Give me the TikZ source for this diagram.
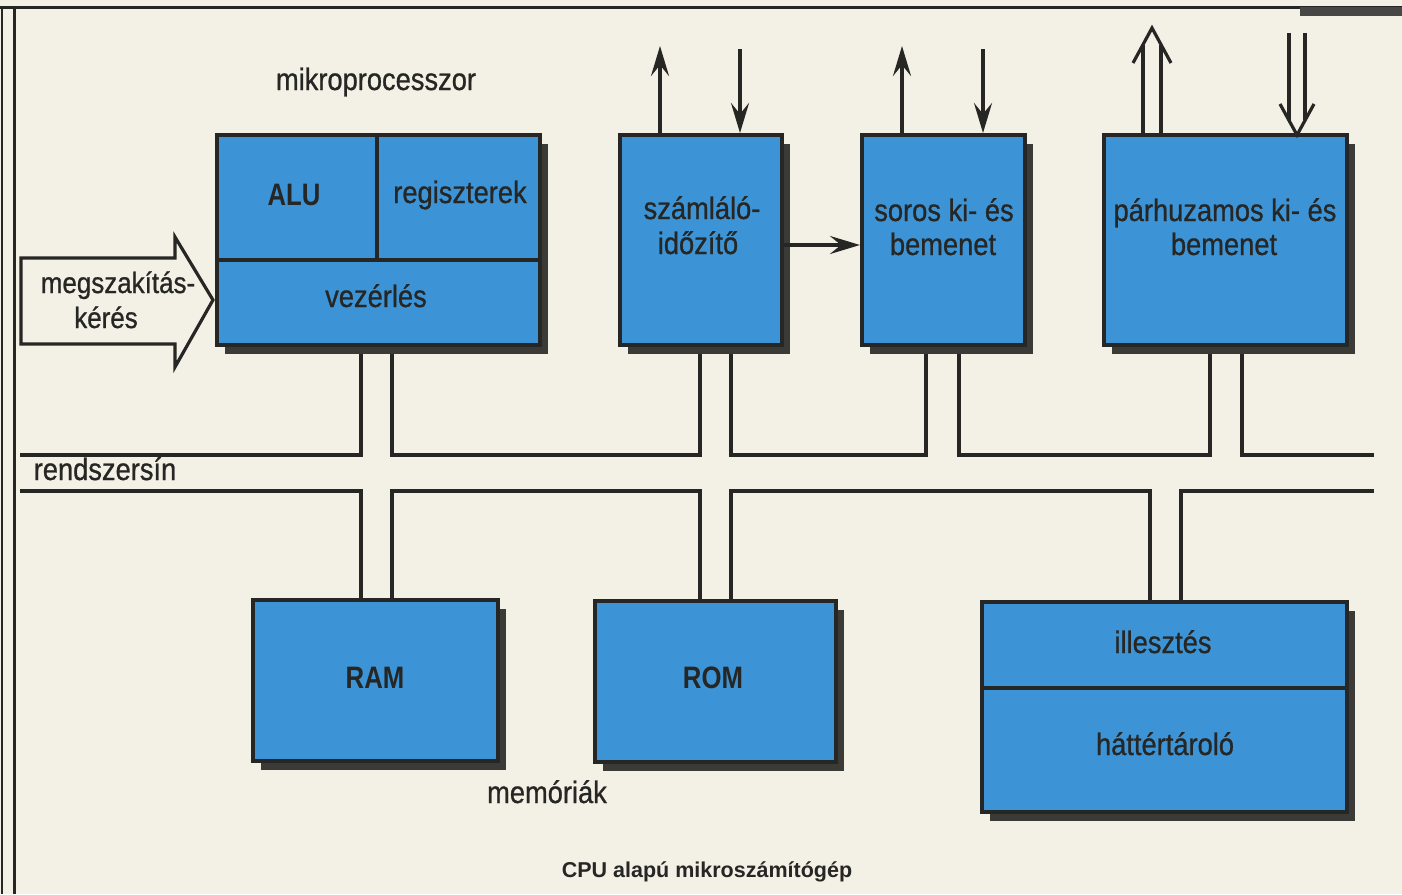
\documentclass[tikz,border=0pt]{standalone}
\usepackage{fontspec}
\setmainfont{Liberation Sans}
\newfontfamily\condfont[FakeStretch=0.88,FakeBold=0.8]{Liberation Sans}
\newfontfamily\bcondfont[FakeStretch=0.83]{Liberation Sans}
\usetikzlibrary{arrows.meta,shadows,backgrounds}
\definecolor{paper}{RGB}{243,240,229}
\definecolor{boxblue}{RGB}{60,148,214}
\definecolor{ink}{RGB}{38,38,36}
\definecolor{shade}{RGB}{58,58,54}
\newcommand\txtreg{\condfont\fontsize{31}{36}\selectfont}
\newcommand\txtirq{\condfont\fontsize{29.5}{34}\selectfont}
\newcommand\txtbold{\bcondfont\fontsize{31}{34}\selectfont\bfseries}
\newcommand\txtcap{\fontsize{21.5}{26}\selectfont\bfseries}
\tikzset{
  blk/.style={draw=ink, line width=4pt, fill=boxblue, inner sep=0pt,
    drop shadow={shadow xshift=8pt, shadow yshift=-9pt, fill=shade, opacity=1}},
  divline/.style={draw=ink, line width=4pt},
  bus/.style={draw=ink, line width=4pt, line join=miter},
  sarrow/.style={draw=ink, line width=3.6pt, -{Stealth[length=30pt,width=18pt,inset=11pt]}},
  dbl/.style={draw=ink, line width=3.2pt},
  lbl/.style={anchor=base, text=ink, inner sep=0pt, font=\txtreg},
  blbl/.style={anchor=base, text=ink, inner sep=0pt, font=\txtbold},
}
\begin{document}
\begin{tikzpicture}[x=1pt,y=-1pt]
\useasboundingbox (0,0) rectangle (1402,894);
% boxes
\node[blk, minimum width=323pt, minimum height=210pt] (mp) at (378.5,240) {};
\node[blk, minimum width=162pt, minimum height=210pt] (szl) at (701,240) {};
\node[blk, minimum width=163pt, minimum height=210pt] (sor) at (943.5,240) {};
\node[blk, minimum width=243pt, minimum height=210pt] (par) at (1225.5,240) {};
\node[blk, minimum width=245pt, minimum height=161pt] (ram) at (375.5,680.5) {};
\node[blk, minimum width=241pt, minimum height=161pt] (rom) at (715.5,681.5) {};
\node[blk, minimum width=365pt, minimum height=210pt] (hat) at (1164.5,707) {};
% dividers
\draw[divline] (mp.west |- 0,260) -- (mp.east |- 0,260);
\draw[divline] (mp.north -| 377,0) -- (377,260);
\draw[divline] (hat.west |- 0,688) -- (hat.east |- 0,688);
% background: paper, frame and bus
\begin{scope}[on background layer]
\fill[paper] (0,0) rectangle (1402,894);
\draw[ink, line width=3pt] (0,7) -- (1402,7);
\draw[ink!85, line width=9pt] (1300,11) -- (1402,11);
\draw[ink, line width=2.5pt] (2,7) -- (2,894);
\draw[ink, line width=3pt] (14,7) -- (14,894);
\coordinate (tl) at (20,455);
\coordinate (t1) at (361,455);
\coordinate (t2) at (392,455);
\coordinate (t3) at (700,455);
\coordinate (t4) at (731,455);
\coordinate (t5) at (926,455);
\coordinate (t6) at (959,455);
\coordinate (t7) at (1210,455);
\coordinate (t8) at (1242,455);
\coordinate (tr) at (1374,455);
\coordinate (bl) at (20,491);
\coordinate (b1) at (361,491);
\coordinate (b2) at (392,491);
\coordinate (b3) at (700,491);
\coordinate (b4) at (731,491);
\coordinate (b5) at (1150,491);
\coordinate (b6) at (1181,491);
\coordinate (br) at (1374,491);
\draw[bus] (tl) -- (t1) -- (t1 |- mp.south);
\draw[bus] (t2 |- mp.south) -- (t2) -- (t3) -- (t3 |- szl.south);
\draw[bus] (t4 |- szl.south) -- (t4) -- (t5) -- (t5 |- sor.south);
\draw[bus] (t6 |- sor.south) -- (t6) -- (t7) -- (t7 |- par.south);
\draw[bus] (t8 |- par.south) -- (t8) -- (tr);
\draw[bus] (bl) -- (b1) -- (b1 |- ram.north);
\draw[bus] (b2 |- ram.north) -- (b2) -- (b3) -- (b3 |- rom.north);
\draw[bus] (b4 |- rom.north) -- (b4) -- (b5) -- (b5 |- hat.north);
\draw[bus] (b6 |- hat.north) -- (b6) -- (br);
\end{scope}
% interrupt arrow
\draw[ink, line width=3.2pt, fill=paper, line join=miter]
  (21,258) -- (175,258) -- (175,237) -- (213,300) -- (175,367) -- (175,344) -- (21,344) -- cycle;
\node[lbl, font=\txtirq] (irq1) at (118,293) {megszakítás-};
\node[lbl, font=\txtirq] (irq2) at (106,328) {kérés};
% single arrows
\coordinate (a1) at (660,46);
\coordinate (a2) at (740,49);
\coordinate (a3) at (902,46);
\coordinate (a4) at (983,49);
\draw[sarrow] (a1 |- szl.north) -- (a1);
\draw[sarrow] (a2) -- (a2 |- szl.north);
\draw[sarrow] (a3 |- sor.north) -- (a3);
\draw[sarrow] (a4) -- (a4 |- sor.north);
\draw[sarrow] (szl.east |- 0,245) -- (sor.west |- 0,245);
% double (hollow) arrows
\coordinate (d1) at (1143,45);
\coordinate (d2) at (1161,45);
\coordinate (d3) at (1289,33);
\coordinate (d4) at (1305,33);
\draw[dbl] (d1 |- par.north) -- (d1);
\draw[dbl] (d2 |- par.north) -- (d2);
\draw[dbl, line join=miter] (1133,63) -- (1152,28) -- (1171,63);
\draw[dbl] (d3) -- (1289,120);
\draw[dbl] (d4) -- (1305,120);
\draw[dbl, line join=miter] (1280,104) -- (1297,135) -- (1314,104);
% labels
\node[lbl] (lmp) at (376,90) {mikroprocesszor};
\node[blbl] (lalu) at (294,205) {ALU};
\node[lbl] (lreg) at (460,203) {regiszterek};
\node[lbl] (lvez) at (376,307) {vezérlés};
\node[lbl] (lszl1) at (702,219) {számláló-};
\node[lbl] (lszl2) at (698,254) {időzítő};
\node[lbl] (lsor1) at (944,221) {soros ki- és};
\node[lbl] (lsor2) at (943,255) {bemenet};
\node[lbl] (lpar1) at (1225,221) {párhuzamos ki- és};
\node[lbl] (lpar2) at (1224,255) {bemenet};
\node[lbl] (lbus) at (105,480) {rendszersín};
\node[blbl] (lram) at (375,688) {RAM};
\node[blbl] (lrom) at (713,688) {ROM};
\node[lbl] (lill) at (1163,653) {illesztés};
\node[lbl] (lhat) at (1165,755) {háttértároló};
\node[lbl] (lmem) at (547,803) {memóriák};
\node[anchor=base, text=ink, inner sep=0pt, font=\txtcap] (lcpu) at (707,877) {CPU alapú mikroszámítógép};
\end{tikzpicture}
\end{document}
